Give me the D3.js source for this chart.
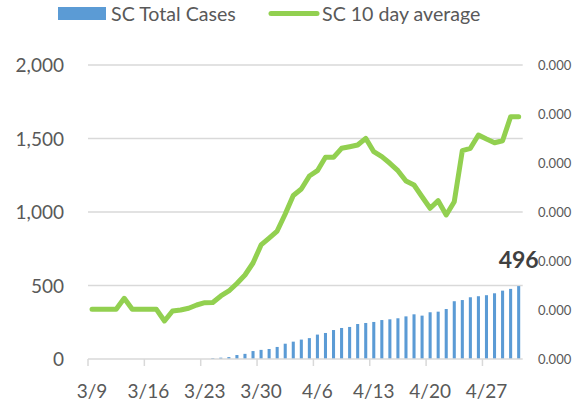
<!DOCTYPE html>
<html>
<head>
<meta charset="utf-8">
<script src="https://cdn.jsdelivr.net/npm/d3@7"></script>
<style>
  body { margin: 0; background: #fff; }
  svg { display: block; font-family: Lato, "Open Sans", sans-serif; }
</style>
</head>
<body>
<div id="chart"></div>
<script>
// --- DATA ---
const dates = [
  "3/9","3/10","3/11","3/12","3/13","3/14","3/15","3/16","3/17","3/18",
  "3/19","3/20","3/21","3/22","3/23","3/24","3/25","3/26","3/27","3/28",
  "3/29","3/30","3/31","4/1","4/2","4/3","4/4","4/5","4/6","4/7",
  "4/8","4/9","4/10","4/11","4/12","4/13","4/14","4/15","4/16","4/17",
  "4/18","4/19","4/20","4/21","4/22","4/23","4/24","4/25","4/26","4/27",
  "4/28","4/29","4/30","5/1"
];
const tickLabels = ["3/9","3/16","3/23","3/30","4/6","4/13","4/20","4/27"];

// SC Total Cases (bars, left axis)
const totalCases = [
  0,0,0,0,0,0,0,0,0,0,
  0,0,0,0,0,6,9,13,27,35,
  54,62,68,82,104,118,132,142,166,177,
  197,211,218,238,245,252,265,270,277,290,
  304,295,318,322,340,393,401,420,427,434,
  447,465,477,496
];

// SC 10 day average (line, right axis)
const tenDayAvg = [
  1.014e-5,1.014e-5,1.014e-5,1.014e-5,1.239e-5,1.014e-5,1.014e-5,1.014e-5,1.014e-5,0.776e-5,
  0.980e-5,1.000e-5,1.035e-5,1.102e-5,1.149e-5,1.153e-5,1.286e-5,1.388e-5,1.541e-5,1.714e-5,
  1.959e-5,2.327e-5,2.469e-5,2.612e-5,2.959e-5,3.337e-5,3.469e-5,3.735e-5,3.843e-5,4.116e-5,
  4.116e-5,4.300e-5,4.333e-5,4.367e-5,4.504e-5,4.231e-5,4.129e-5,3.994e-5,3.843e-5,3.633e-5,
  3.551e-5,3.312e-5,3.076e-5,3.231e-5,2.939e-5,3.210e-5,4.251e-5,4.300e-5,4.571e-5,4.490e-5,
  4.414e-5,4.455e-5,4.945e-5,4.945e-5
];

const leftTicks  = [0, 500, 1000, 1500, 2000];
const rightTicks = [0, 1e-5, 2e-5, 3e-5, 4e-5, 5e-5, 6e-5];

// --- CONSTANTS ---
const W = 572, H = 403;
const plot = { left: 88, right: 522.7, top: 65, bottom: 359 };
const gridColor = "#d9d9d9";
const textColor = "#595959";
const barColor  = "#5B9BD5";
const lineColor = "#92D050";

const svg = d3.select("#chart").append("svg")
    .attr("width", W)
    .attr("height", H);

// --- SCALES ---
const x = d3.scaleBand()
    .domain(dates)
    .range([plot.left, plot.right])
    .paddingInner(0.62)
    .paddingOuter(0.31);

const step = x.step();
const xc = d => x(d) + x.bandwidth() / 2;
const xEdge = d => x(d) - step * x.paddingInner() / 2;   // category boundary

const yLeft = d3.scaleLinear()
    .domain([0, 2000])
    .range([plot.bottom, plot.top]);

const yRight = d3.scaleLinear()
    .domain([0, 6e-5])
    .range([plot.bottom, plot.top]);

// --- GRIDLINES ---
svg.append("g")
    .selectAll("line")
    .data(leftTicks.slice(1))
    .enter()
    .append("line")
    .attr("x1", plot.left)
    .attr("x2", plot.right)
    .attr("y1", d => yLeft(d))
    .attr("y2", d => yLeft(d))
    .attr("stroke", gridColor)
    .attr("stroke-width", 1.5);

// --- LEFT AXIS ---
const leftAxis = svg.append("g")
    .attr("transform", `translate(${plot.left - 24},0)`)
    .call(d3.axisLeft(yLeft).tickValues(leftTicks).tickSize(0).tickFormat(d3.format(",")));
leftAxis.select(".domain").remove();
leftAxis.selectAll("text")
    .attr("x", 0)
    .attr("dy", "0.36em")
    .style("font-family", "Lato, sans-serif")
    .style("font-size", "19px")
    .style("fill", textColor);

// --- RIGHT AXIS (labels only, 3 decimals as shown) ---
const rightAxis = svg.append("g")
    .attr("transform", `translate(538,0)`)
    .call(d3.axisRight(yRight).tickValues(rightTicks).tickSize(0).tickFormat(d3.format(".3f")));
rightAxis.select(".domain").remove();
rightAxis.selectAll("text")
    .attr("x", 0)
    .attr("dy", "0.36em")
    .style("font-family", "Lato, sans-serif")
    .style("font-size", "13px")
    .style("fill", textColor);

// --- BARS ---
svg.append("g")
    .selectAll("rect")
    .data(dates)
    .enter()
    .append("rect")
    .attr("x", d => x(d))
    .attr("width", x.bandwidth())
    .attr("y", (d, i) => yLeft(totalCases[i]))
    .attr("height", (d, i) => plot.bottom - yLeft(totalCases[i]))
    .attr("fill", barColor);

// --- X AXIS ---
svg.append("line")
    .attr("x1", plot.left)
    .attr("x2", plot.right)
    .attr("y1", plot.bottom)
    .attr("y2", plot.bottom)
    .attr("stroke", gridColor)
    .attr("stroke-width", 1.5);

const xTicks = svg.append("g");
xTicks.selectAll("line")
    .data(tickLabels)
    .enter()
    .append("line")
    .attr("x1", d => xEdge(d))
    .attr("x2", d => xEdge(d))
    .attr("y1", plot.bottom)
    .attr("y2", plot.bottom + 7)
    .attr("stroke", gridColor)
    .attr("stroke-width", 1.5);

xTicks.selectAll("text")
    .data(tickLabels)
    .enter()
    .append("text")
    .attr("x", d => xc(d))
    .attr("y", 398)
    .attr("text-anchor", "middle")
    .style("font-size", "19px")
    .style("fill", textColor)
    .text(d => d);

// --- LINE ---
const line = d3.line()
    .x((d, i) => xc(dates[i]))
    .y(d => yRight(d));

svg.append("path")
    .datum(tenDayAvg)
    .attr("d", line)
    .attr("fill", "none")
    .attr("stroke", lineColor)
    .attr("stroke-width", 5)
    .attr("stroke-linejoin", "round")
    .attr("stroke-linecap", "round");

// --- DATA LABEL (last bar) ---
const lastDate = dates[dates.length - 1];
svg.append("text")
    .attr("x", xc(lastDate))
    .attr("y", yLeft(totalCases[totalCases.length - 1]) - 18)
    .attr("text-anchor", "middle")
    .style("font-size", "23px")
    .style("font-weight", "bold")
    .style("fill", "#404040")
    .text(totalCases[totalCases.length - 1]);

// --- LEGEND ---
const legend = svg.append("g");
legend.append("rect")
    .attr("x", 58).attr("y", 7)
    .attr("width", 48).attr("height", 13)
    .attr("fill", barColor);
legend.append("text")
    .attr("x", 111).attr("y", 21)
    .style("font-size", "19.6px")
    .style("fill", textColor)
    .text("SC Total Cases");
legend.append("line")
    .attr("x1", 271).attr("x2", 317)
    .attr("y1", 13.5).attr("y2", 13.5)
    .attr("stroke", lineColor)
    .attr("stroke-width", 5)
    .attr("stroke-linecap", "round");
legend.append("text")
    .attr("x", 322).attr("y", 21)
    .style("font-size", "19.6px")
    .style("fill", textColor)
    .text("SC 10 day average");
</script>
</body>
</html>
